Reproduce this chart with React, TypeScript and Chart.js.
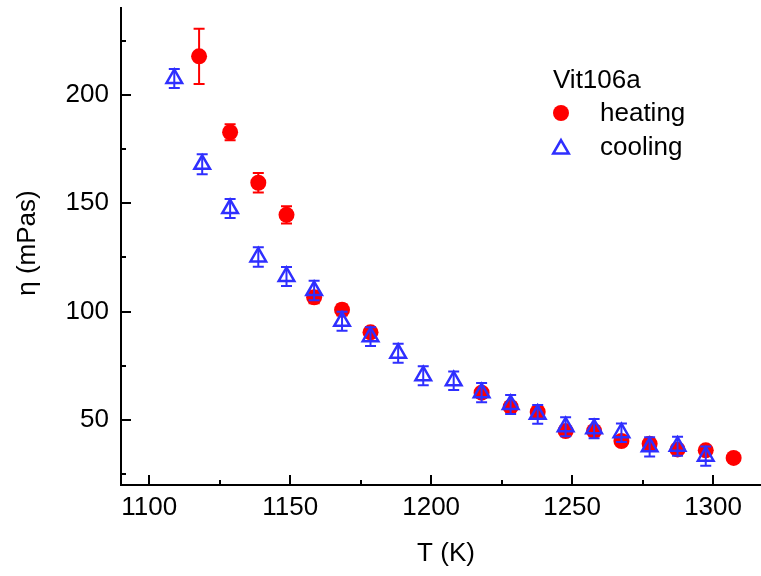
import React, { useEffect, useRef } from 'react';
import { Chart, registerables } from 'chart.js';

Chart.register(...registerables);

// ---- data ----
const heatingT = [1117.7, 1128.7, 1138.7, 1148.7, 1158.5, 1168.4, 1178.5, 1217.9, 1228.2, 1237.8, 1247.7, 1257.8, 1267.5, 1277.5, 1287.4, 1297.4, 1307.3];
const heatingEta = [217.7, 182.7, 159.4, 144.6, 106.6, 100.8, 90.4, 62.6, 56.0, 53.7, 44.9, 44.9, 40.3, 39.0, 36.4, 36.0, 32.5];
const heatingErr = [12.7, 3.7, 4.5, 4.0, 2.8, 2.6, 2.4, 1.8, 1.6, 1.5, 1.3, 1.3, 1.2, 1.1, 1.0, 1.0, 0.9];

const coolingT = [1108.9, 1118.8, 1128.7, 1138.7, 1148.7, 1158.5, 1168.4, 1178.5, 1188.3, 1197.2, 1208.0, 1217.9, 1228.2, 1237.8, 1247.7, 1257.8, 1267.5, 1277.5, 1287.4, 1297.4];
const coolingEta = [207.5, 167.9, 147.5, 125.2, 116.2, 109.7, 95.5, 88.4, 80.8, 70.4, 68.1, 62.6, 57.1, 52.6, 46.9, 46.0, 44.1, 37.6, 37.9, 33.3];
const coolingErr = [4.4, 4.6, 4.4, 4.5, 4.4, 4.5, 4.4, 4.3, 4.4, 4.4, 4.3, 4.4, 4.4, 4.3, 4.4, 4.4, 4.3, 4.4, 4.4, 4.4];

const xMajorTicks = [1100, 1150, 1200, 1250, 1300];
const xMinorTicks = [1125, 1175, 1225, 1275];
const yMajorTicks = [50, 100, 150, 200];
const yMinorTicks = [25, 75, 125, 175, 225];

const xRange = [1090, 1317];
const yRange = [20, 240];

const legendTitle = 'Vit106a';
const xTitle = 'T (K)';
const yTitle = 'η (mPas)';

const RED = '#ff0000';
const BLUE = '#2f2fff';
const FONT = '"Liberation Sans", Arial, sans-serif';
const FSIZE = 26;

const errors: number[][] = [heatingErr, coolingErr];

function drawTri(ctx: CanvasRenderingContext2D, x: number, y: number, r: number) {
  ctx.beginPath();
  for (let i = 0; i < 3; i++) {
    const a = (i * 2 * Math.PI) / 3;
    const px = x + Math.sin(a) * r;
    const py = y - Math.cos(a) * r;
    if (i === 0) ctx.moveTo(px, py);
    else ctx.lineTo(px, py);
  }
  ctx.closePath();
}

const customPlugin = {
  id: 'customDecor',
  afterDatasetDraw(chart: any, args: any) {
    const ctx = chart.ctx as CanvasRenderingContext2D;
    const ds = chart.data.datasets[args.index];
    const errs = errors[args.index];
    const xs = chart.scales.x;
    const ys = chart.scales.y;
    ctx.save();
    ctx.strokeStyle = ds.borderColor;
    ctx.lineWidth = 2;
    ds.data.forEach((p: any, i: number) => {
      const e = errs[i];
      const px = xs.getPixelForValue(p.x);
      const top = ys.getPixelForValue(p.y + e);
      const bot = ys.getPixelForValue(p.y - e);
      ctx.beginPath();
      ctx.moveTo(px, top);
      ctx.lineTo(px, bot);
      ctx.moveTo(px - 5.5, top);
      ctx.lineTo(px + 5.5, top);
      ctx.moveTo(px - 5.5, bot);
      ctx.lineTo(px + 5.5, bot);
      ctx.stroke();
    });
    ctx.restore();
  },
  afterDraw(chart: any) {
    const ctx = chart.ctx as CanvasRenderingContext2D;
    const { left, bottom } = chart.chartArea;
    const xs = chart.scales.x;
    const ys = chart.scales.y;
    ctx.save();
    ctx.strokeStyle = '#000';
    ctx.lineWidth = 2;
    const tick = (vals: number[], len: number, axis: 'x' | 'y') => {
      vals.forEach((v) => {
        ctx.beginPath();
        if (axis === 'x') {
          const px = Math.round(xs.getPixelForValue(v));
          ctx.moveTo(px, bottom);
          ctx.lineTo(px, bottom - len);
        } else {
          const py = Math.round(ys.getPixelForValue(v));
          ctx.moveTo(left, py);
          ctx.lineTo(left + len, py);
        }
        ctx.stroke();
      });
    };
    tick(xMajorTicks, 10, 'x');
    tick(xMinorTicks, 5, 'x');
    tick(yMajorTicks, 10, 'y');
    tick(yMinorTicks, 5, 'y');

    // axis titles
    ctx.fillStyle = '#000';
    ctx.font = `${FSIZE}px ${FONT}`;
    ctx.textAlign = 'center';
    ctx.textBaseline = 'middle';
    ctx.fillText(xTitle, 446, 554);
    ctx.save();
    ctx.translate(28, 243);
    ctx.rotate(-Math.PI / 2);
    ctx.fillText(yTitle, 0, 0);
    ctx.restore();

    // legend
    ctx.textAlign = 'left';
    ctx.fillText(legendTitle, 553, 81);
    const dsH = chart.data.datasets[0];
    const dsC = chart.data.datasets[1];
    ctx.fillStyle = dsH.backgroundColor;
    ctx.beginPath();
    ctx.arc(561, 113, 8, 0, Math.PI * 2);
    ctx.fill();
    ctx.fillStyle = '#000';
    ctx.fillText(dsH.label, 600, 114);
    ctx.strokeStyle = dsC.borderColor;
    ctx.lineWidth = 2.5;
    drawTri(ctx, 561, 149, 9);
    ctx.stroke();
    ctx.fillText(dsC.label, 600, 148);
    ctx.restore();
  },
};

export default function App() {
  const ref = useRef<HTMLCanvasElement | null>(null);
  useEffect(() => {
    if (!ref.current) return;
    const chart = new Chart(ref.current, {
      type: 'scatter',
      data: {
        datasets: [
          {
            label: 'heating',
            data: heatingT.map((t, i) => ({ x: t, y: heatingEta[i] })),
            backgroundColor: RED,
            borderColor: RED,
            pointStyle: 'circle',
            pointRadius: 8,
            pointBorderWidth: 0,
            order: 1,
          },
          {
            label: 'cooling',
            data: coolingT.map((t, i) => ({ x: t, y: coolingEta[i] })),
            backgroundColor: 'rgba(0,0,0,0)',
            borderColor: BLUE,
            pointStyle: 'triangle',
            pointRadius: 9,
            pointBorderWidth: 2.5,
            order: 0,
          },
        ],
      },
      options: {
        animation: false,
        responsive: true,
        maintainAspectRatio: false,
        layout: { autoPadding: false, padding: { top: 8, right: 0, left: 0, bottom: 0 } },
        plugins: { legend: { display: false }, tooltip: { enabled: false } },
        scales: {
          x: {
            type: 'linear',
            min: xRange[0],
            max: xRange[1],
            grid: { display: false, drawTicks: false },
            border: { display: true, color: '#000', width: 2 },
            ticks: {
              color: '#000',
              font: { family: FONT, size: FSIZE },
              padding: 7,
              maxRotation: 0,
              callback: (v: any) => String(v),
            },
            afterBuildTicks: (s: any) => {
              s.ticks = xMajorTicks.map((v) => ({ value: v }));
            },
            afterFit: (s: any) => {
              s.height = 91;
              s.paddingLeft = 0;
              s.paddingRight = 0;
              s.paddingTop = 0;
              s.paddingBottom = 0;
            },
          },
          y: {
            type: 'linear',
            min: yRange[0],
            max: yRange[1],
            grid: { display: false, drawTicks: false },
            border: { display: true, color: '#000', width: 2 },
            ticks: {
              color: '#000',
              font: { family: FONT, size: FSIZE },
              padding: 12,
              callback: (v: any) => String(v),
            },
            afterBuildTicks: (s: any) => {
              s.ticks = yMajorTicks.map((v) => ({ value: v }));
            },
            afterFit: (s: any) => {
              s.width = 121;
              s.paddingLeft = 0;
              s.paddingRight = 0;
              s.paddingTop = 0;
              s.paddingBottom = 0;
            },
          },
        },
      },
      plugins: [customPlugin],
    });
    return () => chart.destroy();
  }, []);
  return (
    <div style={{ position: 'fixed', left: 0, top: 0, width: 761, height: 576, background: '#fff' }}>
      <canvas ref={ref} />
    </div>
  );
}
